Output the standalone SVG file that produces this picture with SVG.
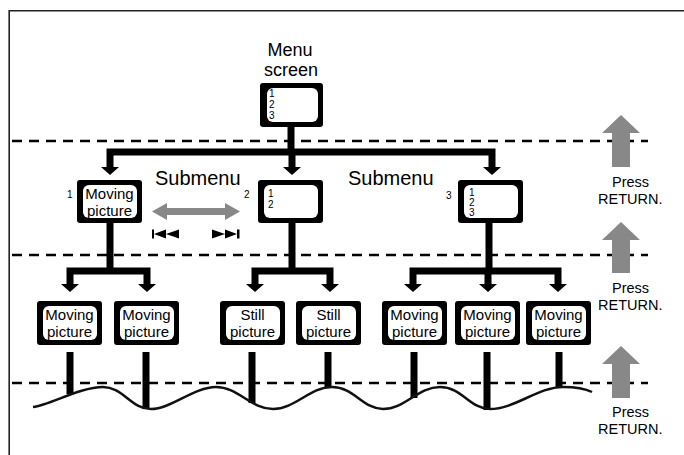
<svg xmlns="http://www.w3.org/2000/svg" width="684" height="455" viewBox="0 0 684 455">
<defs>
<style>
.frame{stroke:#222;stroke-width:1.6;fill:none}
.box{fill:#000}
.scr{fill:#fff}
.t{font-family:"Liberation Sans",Arial,Helvetica,sans-serif;fill:#000}
.lbl{font-size:15px;text-anchor:middle}
.num{font-size:10px}
.big{font-size:20px}
.pr{font-size:14.5px}
.dash{stroke:#000;stroke-width:2.5;stroke-dasharray:10 7;fill:none}
.conn{stroke:#000;stroke-width:7;fill:none}
.head{fill:#000}
.gray{fill:#888}
.wave{stroke:#111;stroke-width:2.5;fill:none}
</style>
</defs>
<rect width="684" height="455" fill="#fff"/>
<path class="frame" d="M9.2,455 V10.8 H684"/>

<g id="dashes">
<line class="dash" x1="12" y1="141" x2="648" y2="141"/>
<line class="dash" x1="12" y1="255" x2="648" y2="255"/>
<line class="dash" x1="12" y1="383" x2="648" y2="383"/>
</g>

<g id="press-return">
<path class="gray" d="M612,167 V133 H602 L621,115 L640,133 H630 V167 Z"/>
<text class="t pr" x="612" y="187">Press</text>
<text class="t pr" x="598" y="204">RETURN.</text>
<path class="gray" d="M612,273 V240 H602 L621,222 L640,240 H630 V273 Z"/>
<text class="t pr" x="612" y="293">Press</text>
<text class="t pr" x="598" y="310">RETURN.</text>
<path class="gray" d="M612,398 V364 H602 L621,346 L640,364 H630 V398 Z"/>
<text class="t pr" x="612" y="417">Press</text>
<text class="t pr" x="598" y="434">RETURN.</text>
</g>

<g id="connectors">
<path class="conn" d="M291,127 V152 M106.5,152 H495.5 M110,152 V168 M292,152 V168 M492,152 V168"/>
<polygon class="head" points="101,167 119,167 110,175"/>
<polygon class="head" points="283,167 301,167 292,175"/>
<polygon class="head" points="483,167 501,167 492,175"/>

<path class="conn" d="M110,223 V271 M66.5,271 H150.5 M70,271 V285 M147,271 V285"/>
<polygon class="head" points="61,284 79,284 70,292"/>
<polygon class="head" points="138,284 156,284 147,292"/>

<path class="conn" d="M292,223 V271 M251.5,271 H333.5 M255,271 V285 M330,271 V285"/>
<polygon class="head" points="246,284 264,284 255,292"/>
<polygon class="head" points="321,284 339,284 330,292"/>

<path class="conn" d="M489,223 V271 M409.5,271 H561.5 M413,271 V285 M488,271 V285 M558,271 V285"/>
<polygon class="head" points="404,284 422,284 413,292"/>
<polygon class="head" points="479,284 497,284 488,292"/>
<polygon class="head" points="549,284 567,284 558,292"/>

<path class="conn" d="M70,352 V394 M146,352 V409 M252,352 V403 M328,352 V388 M414,352 V398 M487,352 V410 M559,352 V388"/>
</g>

<path class="wave" d="M33,407 C50,405 80,387 103,387 C123,387 131,409 151,409 C171,409 194,387 216,387 C238,387 251,409 273,409 C295,409 310,387 332,387 C354,387 363,409 383,409 C405,409 418,387 440,387 C462,387 470,409 490,409 C515,409 538,387 563,387 C578,387 586,389 592,392"/>

<g id="menu-screen">
<text class="t lbl" x="290" y="55.5" style="font-size:18px">Menu</text>
<text class="t lbl" x="291" y="76" style="font-size:18px">screen</text>
<rect class="box" x="260" y="83" width="63" height="44" rx="3"/>
<rect class="scr" x="267" y="88" width="51" height="34" rx="6"/>
<text class="t num" x="269" y="97">1</text>
<text class="t num" x="269" y="108">2</text>
<text class="t num" x="269" y="119">3</text>
</g>

<g id="submenu-labels">
<text class="t big" x="155" y="185">Submenu</text>
<text class="t big" x="348" y="185">Submenu</text>
</g>

<g id="sub1">
<text class="t num" x="67" y="198">1</text>
<rect class="box" x="77" y="180" width="65" height="43" rx="3"/>
<rect class="scr" x="83" y="185" width="54" height="33" rx="6"/>
<text class="t lbl" x="109.5" y="199">Moving</text>
<text class="t lbl" x="109.5" y="216">picture</text>
</g>

<g id="sub2">
<text class="t num" x="244" y="198">2</text>
<rect class="box" x="258" y="180" width="65" height="43" rx="3"/>
<rect class="scr" x="264" y="185" width="54" height="33" rx="6"/>
<text class="t num" x="268" y="197">1</text>
<text class="t num" x="268" y="208">2</text>
</g>

<g id="sub3">
<text class="t num" x="446" y="199">3</text>
<rect class="box" x="458" y="180" width="65" height="43" rx="3"/>
<rect class="scr" x="464" y="185" width="54" height="33" rx="6"/>
<text class="t num" x="469" y="196">1</text>
<text class="t num" x="469" y="206">2</text>
<text class="t num" x="469" y="216">3</text>
</g>

<g id="switch-arrow">
<path class="gray" d="M152,211.5 L167,203 V208 H225 V203 L240,211.5 L225,220 V215 H167 V220 Z"/>
<path class="head" d="M152,229.5 H154 V238.5 H152 Z M154,234 L166,229.5 V238.5 Z M166,234 L179,229.5 V238.5 Z"/>
<path class="head" d="M212,229.5 L225,234 L212,238.5 Z M225,229.5 L237,234 L225,238.5 Z M237,229.5 H239.5 V238.5 H237 Z"/>
</g>

<g id="leaf1">
<rect class="box" x="37" y="301" width="65" height="44" rx="3"/>
<rect class="scr" x="43" y="306" width="54" height="34" rx="6"/>
<text class="t lbl" x="69.5" y="320">Moving</text>
<text class="t lbl" x="69.5" y="337">picture</text>
</g>
<g id="leaf2">
<rect class="box" x="114" y="301" width="65" height="44" rx="3"/>
<rect class="scr" x="120" y="306" width="54" height="34" rx="6"/>
<text class="t lbl" x="146.5" y="320">Moving</text>
<text class="t lbl" x="146.5" y="337">picture</text>
</g>
<g id="leaf3">
<rect class="box" x="220" y="301" width="65" height="44" rx="3"/>
<rect class="scr" x="226" y="306" width="54" height="34" rx="6"/>
<text class="t lbl" x="252.5" y="320">Still</text>
<text class="t lbl" x="252.5" y="337">picture</text>
</g>
<g id="leaf4">
<rect class="box" x="296" y="301" width="65" height="44" rx="3"/>
<rect class="scr" x="302" y="306" width="54" height="34" rx="6"/>
<text class="t lbl" x="328.5" y="320">Still</text>
<text class="t lbl" x="328.5" y="337">picture</text>
</g>
<g id="leaf5">
<rect class="box" x="382" y="301" width="65" height="44" rx="3"/>
<rect class="scr" x="388" y="306" width="54" height="34" rx="6"/>
<text class="t lbl" x="414.5" y="320">Moving</text>
<text class="t lbl" x="414.5" y="337">picture</text>
</g>
<g id="leaf6">
<rect class="box" x="455" y="301" width="65" height="44" rx="3"/>
<rect class="scr" x="461" y="306" width="54" height="34" rx="6"/>
<text class="t lbl" x="487.5" y="320">Moving</text>
<text class="t lbl" x="487.5" y="337">picture</text>
</g>
<g id="leaf7">
<rect class="box" x="526" y="301" width="65" height="44" rx="3"/>
<rect class="scr" x="532" y="306" width="54" height="34" rx="6"/>
<text class="t lbl" x="558.5" y="320">Moving</text>
<text class="t lbl" x="558.5" y="337">picture</text>
</g>
</svg>
